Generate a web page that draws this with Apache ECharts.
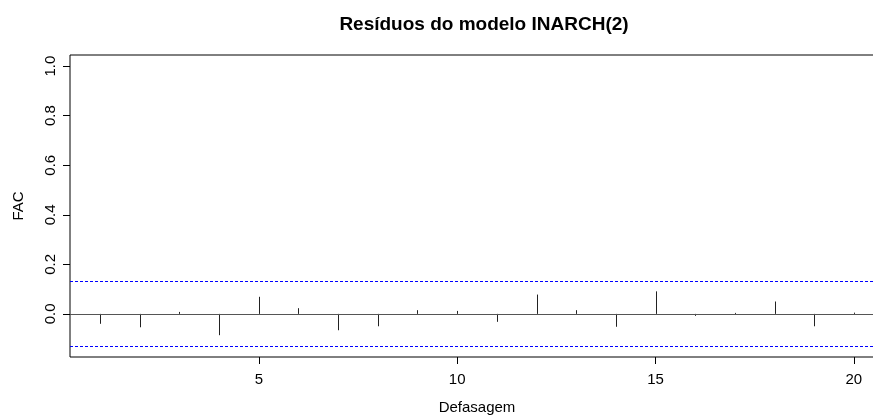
<!DOCTYPE html>
<html>
<head>
<meta charset="utf-8">
<script src="https://cdn.jsdelivr.net/npm/echarts@6/dist/echarts.min.js"></script>
<style>
  html, body { margin: 0; padding: 0; background: #fff; }
  #chart { width: 873px; height: 418px; }
</style>
</head>
<body>
<div id="chart"></div>
<script>
// Autocorrelation of the INARCH(2) residuals, lags 1..20
const lags = [1, 2, 3, 4, 5, 6, 7, 8, 9, 10, 11, 12, 13, 14, 15, 16, 17, 18, 19, 20];
const acfValues = [-0.040, -0.054, 0.008, -0.086, 0.069, 0.023, -0.066, -0.050, 0.015, 0.012,
                   -0.032, 0.078, 0.015, -0.052, 0.091, -0.008, 0.004, 0.050, -0.050, 0.005];
// Approximate 95% bounds
const confLimit = 0.125;
const xTicks = [5, 10, 15, 20];
const yTicks = [0, 0.2, 0.4, 0.6, 0.8, 1.0];

const FONT = '"Liberation Sans", Arial, sans-serif';
const chart = echarts.init(document.getElementById('chart'), null, { renderer: 'canvas' });

const acfPoints = lags.map((l, i) => [l, acfValues[i]]);

chart.setOption({
  animation: false,
  backgroundColor: '#ffffff',
  title: {
    text: 'Resíduos do modelo INARCH(2)',
    left: 479,
    top: 10,
    textAlign: 'center',
    textStyle: { fontFamily: FONT, fontSize: 19, fontWeight: 'bold', color: '#000' }
  },
  grid: {
    left: 70, top: 55, width: 814, height: 302,
    outerBoundsMode: 'none',
    containLabel: false,
    show: true, borderColor: '#000', borderWidth: 1, backgroundColor: 'transparent'
  },
  xAxis: {
    type: 'value',
    min: 0.24, max: 20.76,
    name: 'Defasagem',
    nameLocation: 'middle',
    nameGap: 43,
    nameTextStyle: { fontFamily: FONT, fontSize: 15, color: '#000' },
    axisLine: { show: false, onZero: false },
    splitLine: { show: false },
    axisTick: { show: true, length: 7, customValues: xTicks, lineStyle: { color: '#000' } },
    axisLabel: {
      customValues: xTicks, margin: 15,
      fontFamily: FONT, fontSize: 15, color: '#000'
    }
  },
  yAxis: {
    type: 'value',
    min: -0.174, max: 1.045,
    name: 'FAC',
    nameLocation: 'middle',
    nameGap: 44,
    nameRotate: 90,
    nameTextStyle: { fontFamily: FONT, fontSize: 15, color: '#000' },
    axisLine: { show: false, onZero: false },
    splitLine: { show: false },
    axisTick: { show: true, length: 7, customValues: yTicks, lineStyle: { color: '#000' } },
    axisLabel: {
      customValues: yTicks, rotate: 90, margin: 12,
      fontFamily: FONT, fontSize: 15, color: '#000',
      formatter: v => v.toFixed(1)
    }
  },
  series: [
    {
      // zero reference line
      type: 'line',
      data: acfPoints,
      showSymbol: false,
      lineStyle: { opacity: 0 },
      silent: true,
      markLine: {
        silent: true, symbol: 'none', label: { show: false },
        lineStyle: { color: '#555', type: 'solid', width: 1 },
        data: [{ yAxis: 0 }]
      },
      z: 1
    },
    {
      // confidence bounds
      type: 'line',
      data: acfPoints,
      showSymbol: false,
      lineStyle: { opacity: 0 },
      silent: true,
      markLine: {
        silent: true, symbol: 'none', label: { show: false },
        lineStyle: { color: '#0000ff', type: [3, 2], width: 1 },
        data: [{ yAxis: confLimit }, { yAxis: -confLimit }]
      },
      z: 1
    },
    {
      // ACF spikes
      type: 'custom',
      data: acfPoints,
      renderItem: function (params, api) {
        const p0 = api.coord([api.value(0), 0]);
        const p1 = api.coord([api.value(0), api.value(1)]);
        const x = Math.round(p0[0]) + 0.5;
        return {
          type: 'line',
          shape: { x1: x, y1: p0[1], x2: x, y2: p1[1] },
          style: { stroke: '#222', lineWidth: 1 }
        };
      },
      z: 3
    }
  ]
});
</script>
</body>
</html>
